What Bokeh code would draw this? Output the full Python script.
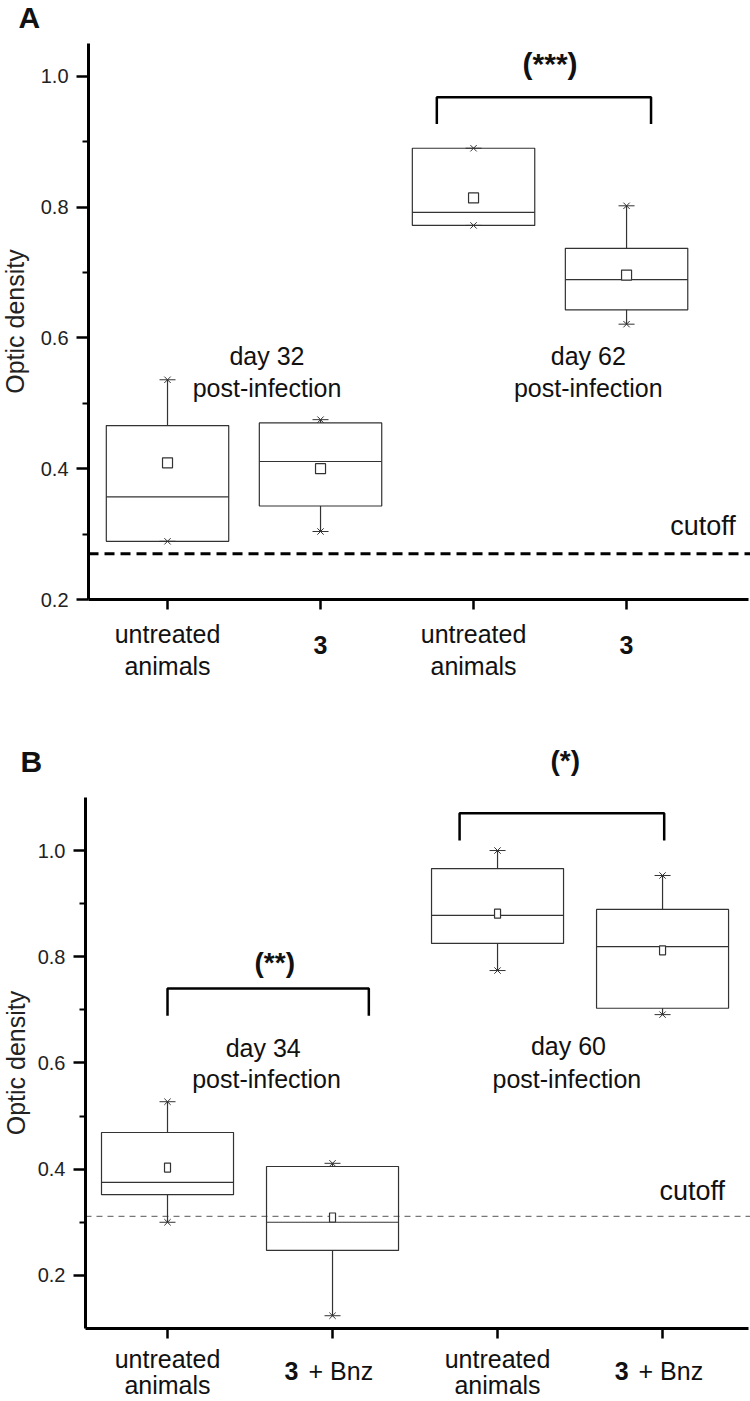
from bokeh.plotting import figure
from bokeh.layouts import column
from bokeh.models import Range1d, FixedTicker, PrintfTickFormatter, ColumnDataSource
from bokeh.core.properties import value
from bokeh.embed import file_html
from bokeh.resources import INLINE

FONT = "Liberation Sans"

# ---------------- data ----------------
positions = [1, 2, 3, 4]
line1_A = ["untreated", "3", "untreated", "3"]
line2_A = ["animals", "", "animals", ""]
line1_B = ["untreated", "3", "untreated", "3"]
line2_B = ["animals", "+ Bnz", "animals", "+ Bnz"]

# Panel A (day 32 / day 62)
q1_A = [0.289, 0.343, 0.772, 0.643]
median_A = [0.357, 0.411, 0.792, 0.689]
q3_A = [0.466, 0.470, 0.890, 0.737]
mean_A = [0.409, 0.400, 0.814, 0.696]
min_A = [0.289, 0.304, 0.772, 0.621]
max_A = [0.536, 0.475, 0.890, 0.802]
cutoff_A = 0.270
days_A = ["day 32", "day 62"]
sig_A = ["(***)"]
bracket_A_x = [(2.76, 4.16)]
bracket_A_y = [(0.927, 0.968)]

# Panel B (day 34 / day 60)
q1_B = [0.352, 0.247, 0.825, 0.703]
median_B = [0.375, 0.300, 0.878, 0.819]
q3_B = [0.469, 0.405, 0.966, 0.889]
mean_B = [0.403, 0.309, 0.881, 0.812]
min_B = [0.300, 0.124, 0.774, 0.691]
max_B = [0.527, 0.411, 1.000, 0.953]
cutoff_B = 0.311
days_B = ["day 34", "day 60"]
sig_B = ["(**)", "(*)"]
bracket_B_x = [(1.0, 2.22), (2.77, 4.01)]
bracket_B_y = [(0.689, 0.740), (1.019, 1.070)]

BOX_HALF = 0.4
BOX_COL = "#333333"
TXT = "#111111"


def base_fig(height, xr, yr, axis_x, x_end, ybounds, label_standoff):
    p = figure(width=750, height=height, x_range=Range1d(*xr), y_range=Range1d(*yr),
               output_backend="svg", toolbar_location=None, title=None, min_border=0,
               min_border_left=0, min_border_right=0, min_border_top=0, min_border_bottom=0)
    p.outline_line_color = None
    p.xgrid.visible = False
    p.ygrid.visible = False
    p.background_fill_color = "white"
    for ax in (p.xaxis[0], p.yaxis[0]):
        ax.axis_line_width = 3
        ax.axis_line_color = "black"
        ax.major_tick_line_width = 2.5
        ax.major_tick_line_color = "black"
        ax.major_tick_in = 0
    # axes pinned at the chart origin
    p.xaxis.fixed_location = ybounds[0]
    p.xaxis.bounds = (axis_x, x_end)
    p.yaxis.fixed_location = axis_x
    p.yaxis.bounds = ybounds
    p.xaxis.ticker = FixedTicker(ticks=positions)
    p.xaxis.major_tick_out = 10
    p.xaxis.minor_tick_line_color = None
    p.xaxis.major_label_overrides = {1: "", 2: "", 3: "", 4: ""}
    p.yaxis.ticker = FixedTicker(ticks=[0.2, 0.4, 0.6, 0.8, 1.0], minor_ticks=[0.3, 0.5, 0.7, 0.9])
    p.yaxis.formatter = PrintfTickFormatter(format="%.1f")
    p.yaxis.major_tick_out = 12
    p.yaxis.minor_tick_out = 6
    p.yaxis.minor_tick_in = 0
    p.yaxis.minor_tick_line_width = 2
    p.yaxis.minor_tick_line_color = "black"
    p.yaxis.major_label_standoff = 8
    p.yaxis.major_label_text_font = FONT
    p.yaxis.major_label_text_font_size = "20px"
    p.yaxis.major_label_text_color = "#222222"
    p.yaxis.axis_label = "Optic density"
    p.yaxis.axis_label_text_font = FONT
    p.yaxis.axis_label_text_font_size = "25px"
    p.yaxis.axis_label_text_font_style = "normal"
    p.yaxis.axis_label_text_color = "#222222"
    p.yaxis.axis_label_standoff = label_standoff
    return p


def draw_boxes(p, q1, med, q3, mean, mn, mx, mean_w, mean_h):
    src = ColumnDataSource(dict(
        x=positions, left=[x - BOX_HALF for x in positions], right=[x + BOX_HALF for x in positions],
        q1=q1, med=med, q3=q3, mean=mean, mn=mn, mx=mx))
    p.segment(x0="x", y0="q3", x1="x", y1="mx", source=src, line_color=BOX_COL, line_width=1.2)
    p.segment(x0="x", y0="q1", x1="x", y1="mn", source=src, line_color=BOX_COL, line_width=1.2)
    p.quad(left="left", right="right", bottom="q1", top="q3", source=src,
           fill_color=None, line_color=BOX_COL, line_width=1.2)
    p.segment(x0="left", y0="med", x1="right", y1="med", source=src, line_color=BOX_COL, line_width=1.2)
    p.rect(x="x", y="mean", width=mean_w, height=mean_h, width_units="screen", height_units="screen",
           source=src, fill_color="white", line_color=BOX_COL, line_width=1.2)
    for col in ("mx", "mn"):
        p.scatter(x="x", y=col, source=src, marker="x", size=9, line_color=BOX_COL, line_width=1)
        p.scatter(x="x", y=col, source=src, marker="dash", size=16, line_color=BOX_COL, line_width=1)


def draw_brackets(p, bx, by, sig, sig_pos, size):
    for (x0, x1), (yb, yt) in zip(bx, by):
        p.line(x=[x0, x0, x1, x1], y=[yb, yt, yt, yb], line_color="black", line_width=2.5)
    p.text(x=[s[0] for s in sig_pos], y=[s[1] for s in sig_pos], text=sig,
           text_font=value(FONT), text_font_size=size, text_font_style="bold",
           text_align="center", text_baseline="middle", text_color=TXT)


def ann_text(p, xs, ys, texts, size="25px", align="center", baseline="middle", style="normal",
             x_offset=0):
    p.text(x=xs, y=ys, text=texts, text_font=value(FONT), text_font_size=size,
           text_font_style=style, text_align=align, text_baseline=baseline, text_color=TXT,
           x_offset=x_offset)


def xlabels(p, l1, l2, y1, y2, y3, plus):
    reg_x = [x for x, a in zip(positions, l1) if a != "3"]
    ann_text(p, reg_x, [y1] * len(reg_x), [a for a in l1 if a != "3"])
    ann_text(p, reg_x, [y2] * len(reg_x), [b for a, b in zip(l1, l2) if a != "3"])
    bx = [x for x, a in zip(positions, l1) if a == "3"]
    if plus:
        ann_text(p, bx, [y3] * len(bx), ["3"] * len(bx), size="25px", align="right", style="bold",
                 x_offset=-34)
        ann_text(p, bx, [y3] * len(bx), [b for a, b in zip(l1, l2) if a == "3"], align="left",
                 x_offset=-24)
    else:
        ann_text(p, bx, [y3] * len(bx), ["3"] * len(bx), size="25px", style="bold")


# ---------------- Panel A ----------------
axA = 0.4837
pA = base_fig(700, (-0.0915, 4.810), (0.0456, 1.1159), axA, 4.797, (0.2, 1.05), 9)
pA.segment(x0=[axA], y0=[cutoff_A], x1=[4.810], y1=[cutoff_A], line_color="black", line_width=3,
           line_dash="10 6")
draw_boxes(pA, q1_A, median_A, q3_A, mean_A, min_A, max_A, 10, 10)
draw_brackets(pA, bracket_A_x, bracket_A_y, sig_A, [(3.5, 1.019)], "30px")
ann_text(pA, [1.65, 3.75], [0.573, 0.573], days_A)
ann_text(pA, [1.65, 3.75], [0.524, 0.524], ["post-infection", "post-infection"])
ann_text(pA, [4.5], [0.313], ["cutoff"], size="27px")
xlabels(pA, line1_A, line2_A, 0.148, 0.099, 0.130, False)
ann_text(pA, [0.026], [1.090], ["A"], size="30px", align="left", style="bold")

# ---------------- Panel B ----------------
axB = 0.503
pB = base_fig(701, (-0.0121, 4.533), (-0.0375, 1.2825), axB, 4.521, (0.1, 1.1), 5)
pB.segment(x0=[axB], y0=[cutoff_B], x1=[4.533], y1=[cutoff_B], line_color="#777777", line_width=1.2,
           line_dash="6 5")
draw_boxes(pB, q1_B, median_B, q3_B, mean_B, min_B, max_B, 6, 9)
draw_brackets(pB, bracket_B_x, bracket_B_y, sig_B, [(1.65, 0.790), (3.41, 1.170)], "28px")
ann_text(pB, [1.58, 3.43], [0.629, 0.631], days_B)
ann_text(pB, [1.6, 3.42], [0.569, 0.569], ["post-infection", "post-infection"])
ann_text(pB, [4.18], [0.358], ["cutoff"], size="27px")
xlabels(pB, line1_B, line2_B, 0.0416, -0.0055, 0.0191, True)
ann_text(pB, [0.109], [1.1676], ["B"], size="30px", align="left", style="bold")

layout = column(pA, pB, spacing=0)
open("out.html", "w").write(file_html(layout, INLINE))
